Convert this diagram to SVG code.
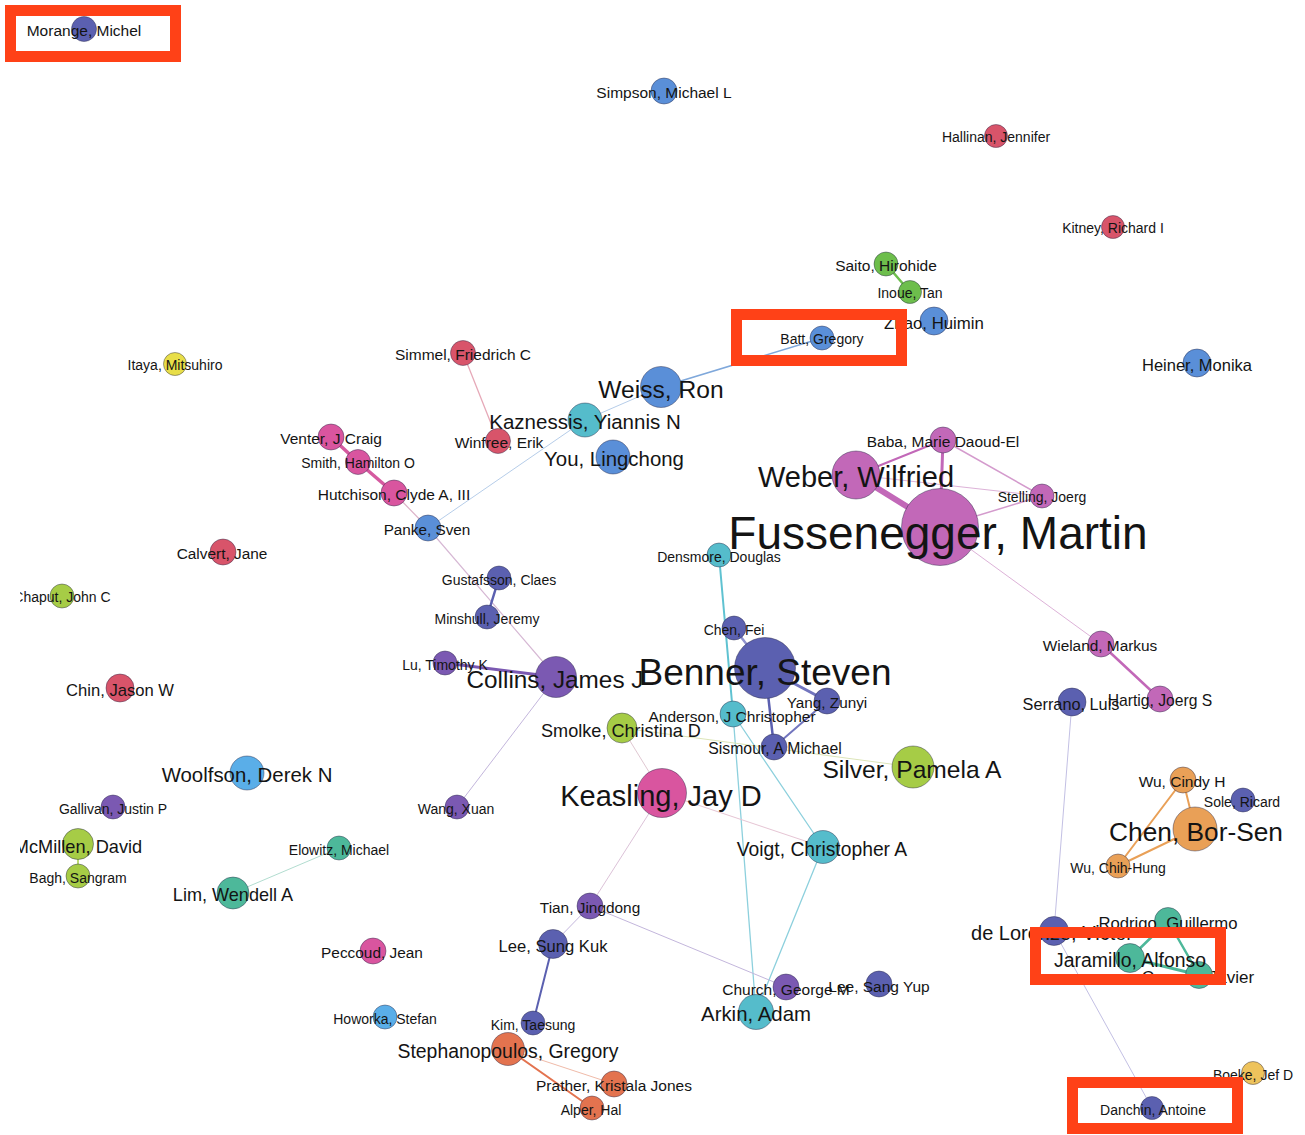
<svg xmlns="http://www.w3.org/2000/svg" width="1305" height="1135" viewBox="0 0 1305 1135">
<defs>
<style>
text{font-family:"Liberation Sans",Arial,sans-serif;fill:#141414;text-anchor:middle}
circle{stroke:rgba(40,40,70,0.55);stroke-width:0.8}
.indigo{fill:#5B60B0}.blue{fill:#5A8FD8}.lblue{fill:#5AAEE8}.purple{fill:#7B59B2}
.red{fill:#D8546A}.pink{fill:#D9559F}.orchid{fill:#C268B8}.teal{fill:#55BCCB}
.sea{fill:#4DB89A}.green{fill:#6DBE4C}.ygreen{fill:#A6CC46}.yellow{fill:#E8DE48}
.orange{fill:#E9A057}.salmon{fill:#E3734F}.gold{fill:#EEC35C}
#edges line{fill:none;stroke-linecap:round}
.hl{fill:none;stroke:#FF4117;stroke-width:11}
</style>
<clipPath id="clipL"><rect x="20" y="0" width="1285" height="1135"/></clipPath>
</defs>
<rect width="1305" height="1135" fill="#fff"/>
<g id="edges">
<line x1="886" y1="264" x2="910" y2="292" stroke="#6DBE4C" stroke-width="2.5"/>
<line x1="661" y1="387" x2="822" y2="338" stroke="#7FA8DB" stroke-width="1.5"/>
<line x1="585" y1="420" x2="661" y2="387" stroke="#B6CDE9" stroke-width="1"/>
<line x1="428" y1="528" x2="585" y2="420" stroke="#B6CDE9" stroke-width="1"/>
<line x1="463" y1="353" x2="498" y2="441" stroke="#E6A9B8" stroke-width="1.3"/>
<line x1="331" y1="437" x2="358" y2="462" stroke="#D55AA0" stroke-width="3.5"/>
<line x1="358" y1="462" x2="394" y2="493" stroke="#D55AA0" stroke-width="3.5"/>
<line x1="394" y1="493" x2="428" y2="528" stroke="#DDB3C9" stroke-width="1.2"/>
<line x1="428" y1="528" x2="556" y2="677" stroke="#D6B8D4" stroke-width="1.2"/>
<line x1="499" y1="578" x2="487" y2="617" stroke="#5B60B0" stroke-width="2.5"/>
<line x1="445" y1="663" x2="556" y2="677" stroke="#7B59B2" stroke-width="3"/>
<line x1="556" y1="677" x2="457" y2="807" stroke="#C3B6DC" stroke-width="1"/>
<line x1="734" y1="628" x2="765" y2="668" stroke="#8F92CE" stroke-width="2.5"/>
<line x1="765" y1="668" x2="827" y2="701" stroke="#7275BE" stroke-width="3"/>
<line x1="765" y1="668" x2="774" y2="747" stroke="#5B60B0" stroke-width="2.5"/>
<line x1="827" y1="701" x2="774" y2="747" stroke="#7275BE" stroke-width="2"/>
<line x1="719" y1="555" x2="733" y2="714" stroke="#5FC2D1" stroke-width="2"/>
<line x1="733" y1="714" x2="756" y2="1012" stroke="#8DD0DD" stroke-width="1.3"/>
<line x1="733" y1="714" x2="823" y2="847" stroke="#8DD0DD" stroke-width="1.3"/>
<line x1="823" y1="847" x2="756" y2="1012" stroke="#8DD0DD" stroke-width="1.3"/>
<line x1="662" y1="793" x2="823" y2="847" stroke="#E6C5D4" stroke-width="1"/>
<line x1="622" y1="728" x2="662" y2="793" stroke="#E0C8D2" stroke-width="1"/>
<line x1="622" y1="728" x2="913" y2="767" stroke="#DCE5B8" stroke-width="1"/>
<line x1="662" y1="793" x2="590" y2="906" stroke="#DCC2D8" stroke-width="1"/>
<line x1="590" y1="906" x2="553" y2="944" stroke="#C3B6DC" stroke-width="1"/>
<line x1="590" y1="906" x2="786" y2="987" stroke="#C3B6DC" stroke-width="1"/>
<line x1="553" y1="944" x2="533" y2="1023" stroke="#5B60B0" stroke-width="2"/>
<line x1="508" y1="1049" x2="614" y2="1084" stroke="#F0BBA9" stroke-width="1"/>
<line x1="508" y1="1049" x2="592" y2="1108" stroke="#E3734F" stroke-width="2"/>
<line x1="339" y1="848" x2="233" y2="893" stroke="#B2DDD0" stroke-width="1"/>
<line x1="78" y1="844" x2="78" y2="876" stroke="#A6CC46" stroke-width="1.5"/>
<line x1="943" y1="440" x2="856" y2="475" stroke="#C268B8" stroke-width="2"/>
<line x1="943" y1="440" x2="940" y2="527" stroke="#C268B8" stroke-width="3"/>
<line x1="943" y1="440" x2="1042" y2="496" stroke="#D49BCD" stroke-width="1.5"/>
<line x1="856" y1="475" x2="940" y2="527" stroke="#C268B8" stroke-width="6"/>
<line x1="856" y1="475" x2="1042" y2="496" stroke="#DDB2D8" stroke-width="1"/>
<line x1="940" y1="527" x2="1042" y2="496" stroke="#D49BCD" stroke-width="1.5"/>
<line x1="940" y1="527" x2="1101" y2="644" stroke="#DDB2D8" stroke-width="1"/>
<line x1="1101" y1="644" x2="1160" y2="699" stroke="#C268B8" stroke-width="2.5"/>
<line x1="1072" y1="702" x2="1054" y2="931" stroke="#C3C0E4" stroke-width="1"/>
<line x1="1054" y1="931" x2="1152" y2="1108" stroke="#C3C0E4" stroke-width="1"/>
<line x1="1183" y1="780" x2="1195" y2="829" stroke="#E9A057" stroke-width="2"/>
<line x1="1183" y1="780" x2="1118" y2="866" stroke="#E9A057" stroke-width="2"/>
<line x1="1118" y1="866" x2="1195" y2="829" stroke="#E9A057" stroke-width="2"/>
<line x1="1130" y1="958" x2="1168" y2="921" stroke="#4DB89A" stroke-width="2.5"/>
<line x1="1130" y1="958" x2="1199" y2="975" stroke="#4DB89A" stroke-width="3"/>
<line x1="1168" y1="921" x2="1199" y2="975" stroke="#4DB89A" stroke-width="2.5"/>
</g>
<g id="nodes" clip-path="url(#clipL)">
<g id="n-morange"><circle class="indigo" cx="84" cy="29" r="12.5"/><text x="84" y="36" font-size="15.5">Morange, Michel</text></g>
<g id="n-simpson"><circle class="blue" cx="664" cy="91" r="13"/><text x="664" y="98" font-size="15.5">Simpson, Michael L</text></g>
<g id="n-hallinan"><circle class="red" cx="996" cy="136" r="11.5"/><text x="996" y="142" font-size="14">Hallinan, Jennifer</text></g>
<g id="n-kitney"><circle class="red" cx="1113" cy="227" r="11.5"/><text x="1113" y="233" font-size="14">Kitney, Richard I</text></g>
<g id="n-saito"><circle class="green" cx="886" cy="264" r="12"/><text x="886" y="271" font-size="15.5">Saito, Hirohide</text></g>
<g id="n-inoue"><circle class="green" cx="910" cy="292" r="11.5"/><text x="910" y="298" font-size="14">Inoue, Tan</text></g>
<g id="n-zhao"><circle class="blue" cx="934" cy="321" r="14"/><text x="934" y="328.5" font-size="16.8">Zhao, Huimin</text></g>
<g id="n-batt"><circle class="blue" cx="822" cy="338" r="12"/><text x="822" y="344" font-size="14">Batt, Gregory</text></g>
<g id="n-heiner"><circle class="blue" cx="1197" cy="363" r="14"/><text x="1197" y="370.5" font-size="16.5">Heiner, Monika</text></g>
<g id="n-itaya"><circle class="yellow" cx="175" cy="364" r="11.5"/><text x="175" y="370" font-size="14">Itaya, Mitsuhiro</text></g>
<g id="n-simmel"><circle class="red" cx="463" cy="353" r="12.5"/><text x="463" y="360" font-size="15.5">Simmel, Friedrich C</text></g>
<g id="n-weiss"><circle class="blue" cx="661" cy="387" r="20.5"/><text x="661" y="398" font-size="24.6">Weiss, Ron</text></g>
<g id="n-kaznessis"><circle class="teal" cx="585" cy="420" r="17"/><text x="585" y="429" font-size="20.5">Kaznessis, Yiannis N</text></g>
<g id="n-winfree"><circle class="red" cx="498" cy="441" r="12.5"/><text x="499" y="448" font-size="15.5">Winfree, Erik</text></g>
<g id="n-you"><circle class="blue" cx="613" cy="457" r="17"/><text x="614" y="466" font-size="20.4">You, Lingchong</text></g>
<g id="n-venter"><circle class="pink" cx="331" cy="437" r="13"/><text x="331" y="444" font-size="15.5">Venter, J Craig</text></g>
<g id="n-smith"><circle class="pink" cx="358" cy="462" r="12.5"/><text x="358" y="468" font-size="14">Smith, Hamilton O</text></g>
<g id="n-hutchison"><circle class="pink" cx="394" cy="493" r="13"/><text x="394" y="500" font-size="15.5">Hutchison, Clyde A, III</text></g>
<g id="n-panke"><circle class="blue" cx="428" cy="528" r="13"/><text x="427" y="535" font-size="15.3">Panke, Sven</text></g>
<g id="n-fussenegger"><circle class="orchid" cx="940" cy="527" r="38.5"/><text x="938" y="549" font-size="46">Fussenegger, Martin</text></g>
<g id="n-weber"><circle class="orchid" cx="856" cy="475" r="24"/><text x="856" y="487" font-size="29">Weber, Wilfried</text></g>
<g id="n-baba"><circle class="orchid" cx="943" cy="440" r="13"/><text x="943" y="447" font-size="15.5">Baba, Marie Daoud-El</text></g>
<g id="n-stelling"><circle class="orchid" cx="1042" cy="496" r="12"/><text x="1042" y="502" font-size="14">Stelling, Joerg</text></g>
<g id="n-densmore"><circle class="teal" cx="719" cy="555" r="12"/><text x="719" y="562" font-size="14">Densmore, Douglas</text></g>
<g id="n-calvert"><circle class="red" cx="223" cy="552" r="13"/><text x="222" y="559" font-size="15.4">Calvert, Jane</text></g>
<g id="n-chaput"><circle class="ygreen" cx="62" cy="596" r="12"/><text x="62" y="602" font-size="14">Chaput, John C</text></g>
<g id="n-gustafsson"><circle class="indigo" cx="499" cy="578" r="12"/><text x="499" y="584.5" font-size="14">Gustafsson, Claes</text></g>
<g id="n-minshull"><circle class="indigo" cx="487" cy="617" r="12"/><text x="487" y="623.5" font-size="14">Minshull, Jeremy</text></g>
<g id="n-chenfei"><circle class="indigo" cx="734" cy="628" r="12"/><text x="734" y="634.5" font-size="14">Chen, Fei</text></g>
<g id="n-lu"><circle class="purple" cx="445" cy="663" r="12"/><text x="445" y="669.5" font-size="14">Lu, Timothy K</text></g>
<g id="n-collins"><circle class="purple" cx="556" cy="677" r="20.5"/><text x="555" y="688" font-size="24.3">Collins, James J</text></g>
<g id="n-benner"><circle class="indigo" cx="765" cy="668" r="30.5"/><text x="765" y="685" font-size="37">Benner, Steven</text></g>
<g id="n-yang"><circle class="indigo" cx="827" cy="701" r="13"/><text x="827" y="708" font-size="15.3">Yang, Zunyi</text></g>
<g id="n-anderson"><circle class="teal" cx="733" cy="714" r="13"/><text x="732" y="721.5" font-size="15.5">Anderson, J Christopher</text></g>
<g id="n-smolke"><circle class="ygreen" cx="622" cy="728" r="15"/><text x="621" y="736.5" font-size="18.1">Smolke, Christina D</text></g>
<g id="n-sismour"><circle class="indigo" cx="774" cy="747" r="13"/><text x="775" y="754" font-size="15.8">Sismour, A Michael</text></g>
<g id="n-silver"><circle class="ygreen" cx="913" cy="767" r="21"/><text x="912" y="778" font-size="24.6">Silver, Pamela A</text></g>
<g id="n-chin"><circle class="red" cx="120" cy="688" r="14"/><text x="120" y="695.5" font-size="16.6">Chin, Jason W</text></g>
<g id="n-woolfson"><circle class="lblue" cx="247" cy="773" r="17"/><text x="247" y="782" font-size="20.4">Woolfson, Derek N</text></g>
<g id="n-gallivan"><circle class="purple" cx="113" cy="807" r="12"/><text x="113" y="813.5" font-size="14">Gallivan, Justin P</text></g>
<g id="n-wang"><circle class="purple" cx="457" cy="807" r="12"/><text x="456" y="813.5" font-size="14">Wang, Xuan</text></g>
<g id="n-keasling"><circle class="pink" cx="662" cy="793" r="24.5"/><text x="661" y="806" font-size="29">Keasling, Jay D</text></g>
<g id="n-voigt"><circle class="teal" cx="823" cy="847" r="16.5"/><text x="822" y="856" font-size="19.3">Voigt, Christopher A</text></g>
<g id="n-mcmillen"><circle class="ygreen" cx="78" cy="844" r="15.5"/><text x="78" y="852.5" font-size="18.2">McMillen, David</text></g>
<g id="n-bagh"><circle class="ygreen" cx="78" cy="876" r="12"/><text x="78" y="882.5" font-size="14">Bagh, Sangram</text></g>
<g id="n-elowitz"><circle class="sea" cx="339" cy="848" r="12"/><text x="339" y="854.5" font-size="14">Elowitz, Michael</text></g>
<g id="n-lim"><circle class="sea" cx="233" cy="893" r="16"/><text x="233" y="901" font-size="18.1">Lim, Wendell A</text></g>
<g id="n-tian"><circle class="purple" cx="590" cy="906" r="13"/><text x="590" y="913" font-size="15.4">Tian, Jingdong</text></g>
<g id="n-leesungkuk"><circle class="indigo" cx="553" cy="944" r="14.5"/><text x="553" y="951.5" font-size="16.6">Lee, Sung Kuk</text></g>
<g id="n-peccoud"><circle class="pink" cx="373" cy="951" r="13"/><text x="372" y="958" font-size="15.4">Peccoud, Jean</text></g>
<g id="n-howorka"><circle class="lblue" cx="385" cy="1017" r="12"/><text x="385" y="1023.5" font-size="14">Howorka, Stefan</text></g>
<g id="n-kim"><circle class="indigo" cx="533" cy="1023" r="12"/><text x="533" y="1029.5" font-size="14">Kim, Taesung</text></g>
<g id="n-stephanopoulos"><circle class="salmon" cx="508" cy="1049" r="16.5"/><text x="508" y="1058" font-size="19.4">Stephanopoulos, Gregory</text></g>
<g id="n-prather"><circle class="salmon" cx="614" cy="1084" r="13"/><text x="614" y="1091" font-size="15.5">Prather, Kristala Jones</text></g>
<g id="n-alper"><circle class="salmon" cx="592" cy="1108" r="12"/><text x="591" y="1114.5" font-size="14">Alper, Hal</text></g>
<g id="n-arkin"><circle class="teal" cx="756" cy="1012" r="17.5"/><text x="756" y="1021" font-size="20.4">Arkin, Adam</text></g>
<g id="n-church"><circle class="purple" cx="786" cy="987" r="13"/><text x="786" y="995" font-size="15.5">Church, George M</text></g>
<g id="n-leesangyup"><circle class="indigo" cx="879" cy="984" r="13"/><text x="879" y="992" font-size="15.5">Lee, Sang Yup</text></g>
<g id="n-wieland"><circle class="orchid" cx="1101" cy="644" r="13"/><text x="1100" y="651" font-size="15.4">Wieland, Markus</text></g>
<g id="n-hartig"><circle class="orchid" cx="1160" cy="699" r="13"/><text x="1160" y="706" font-size="15.7">Hartig, Joerg S</text></g>
<g id="n-serrano"><circle class="indigo" cx="1072" cy="702" r="14"/><text x="1071" y="709.5" font-size="16.3">Serrano, Luis</text></g>
<g id="n-wucindy"><circle class="orange" cx="1183" cy="780" r="13"/><text x="1182" y="787" font-size="15.5">Wu, Cindy H</text></g>
<g id="n-sole"><circle class="indigo" cx="1243" cy="800" r="12"/><text x="1242" y="806.5" font-size="14">Sole, Ricard</text></g>
<g id="n-chenborsen"><circle class="orange" cx="1195" cy="829" r="22"/><text x="1196" y="841" font-size="26.3">Chen, Bor-Sen</text></g>
<g id="n-wuchihhung"><circle class="orange" cx="1118" cy="866" r="12"/><text x="1118" y="872.5" font-size="14">Wu, Chih-Hung</text></g>
<g id="n-delorenzo"><circle class="indigo" cx="1054" cy="931" r="14.5"/><text x="1052" y="940" font-size="20">de Lorenzo, Victor</text></g>
<g id="n-rodrigo"><circle class="sea" cx="1168" cy="921" r="13.5"/><text x="1168" y="928.5" font-size="16.7">Rodrigo, Guillermo</text></g>
<g id="n-carrera"><circle class="sea" cx="1199" cy="975" r="13.5"/><text x="1198" y="983" font-size="17">Carrera, Javier</text></g>
<g id="n-jaramillo"><circle class="sea" cx="1130" cy="958" r="14.5"/><text x="1130" y="966.5" font-size="19.4">Jaramillo, Alfonso</text></g>
<g id="n-boeke"><circle class="gold" cx="1253" cy="1073" r="11.5"/><text x="1253" y="1079.5" font-size="14">Boeke, Jef D</text></g>
<g id="n-danchin"><circle class="indigo" cx="1152" cy="1108" r="11.5"/><text x="1153" y="1114.5" font-size="14">Danchin, Antoine</text></g>
</g>
<g id="highlights">
<rect class="hl" x="10.5" y="10.5" width="165" height="46"/>
<rect class="hl" x="736.5" y="314.5" width="165" height="46"/>
<rect class="hl" x="1035.5" y="932.5" width="185" height="47"/>
<rect class="hl" x="1072.5" y="1082.5" width="165" height="46"/>
</g>
</svg>
